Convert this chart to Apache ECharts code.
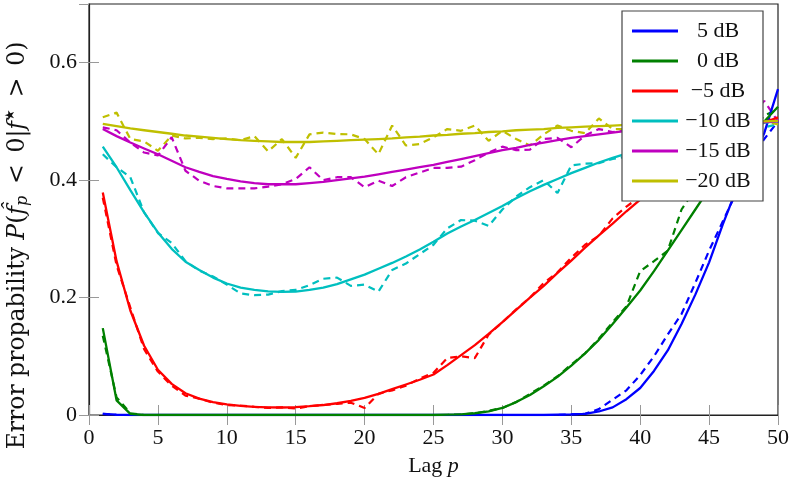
<!DOCTYPE html>
<html>
<head>
<meta charset="utf-8">
<script src="https://cdn.jsdelivr.net/npm/echarts@6/dist/echarts.min.js"></script>
<style>html,body{margin:0;padding:0;background:#fff}#c{width:790px;height:482px}</style>
</head>
<body>
<div id="c"></div>
<script>
const lags = Array.from({length: 50}, (_, i) => i + 1);
const xTicks = [0, 5, 10, 15, 20, 25, 30, 35, 40, 45, 50];
const yTicks = [0, 0.2, 0.4, 0.6];
const names = ['5 dB', '0 dB', '\u22125 dB', '\u221210 dB', '\u221215 dB', '\u221220 dB'];
const colors = ['#0000ff', '#008000', '#ff0000', '#00bfbf', '#bf00bf', '#bfbf00'];

// theory (solid)
const theory5 = [0.002,0.0005,0,0,0,0,0,0,0,0, 0,0,0,0,0,0,0,0,0,0, 0,0,0,0,0,0,0,0,0,0, 0,0,0,0.0005,0.001,0.002,0.006,0.013,0.027,0.046, 0.075,0.11,0.155,0.205,0.26,0.325,0.385,0.43,0.48,0.555];
const theory0 = [0.148,0.025,0.002,0,0,0,0,0,0,0, 0,0,0,0,0,0,0,0,0,0, 0,0,0,0,0,0.0005,0.001,0.003,0.006,0.012, 0.022,0.034,0.049,0.065,0.084,0.105,0.128,0.155,0.183,0.212, 0.245,0.28,0.315,0.35,0.385,0.415,0.445,0.475,0.50,0.525];
const theoryM5 = [0.379,0.262,0.178,0.118,0.077,0.053,0.037,0.028,0.022,0.018, 0.0155,0.0138,0.013,0.0128,0.0133,0.015,0.017,0.02,0.024,0.029, 0.036,0.044,0.052,0.06,0.069,0.085,0.102,0.119,0.138,0.158, 0.179,0.2,0.22,0.242,0.263,0.285,0.306,0.326,0.347,0.367, 0.386,0.404,0.421,0.437,0.452,0.465,0.477,0.488,0.498,0.507];
const theoryM10 = [0.457,0.422,0.383,0.345,0.311,0.283,0.261,0.247,0.234,0.224, 0.217,0.213,0.2105,0.2097,0.2103,0.213,0.217,0.223,0.231,0.239, 0.249,0.259,0.27,0.282,0.295,0.309,0.321,0.332,0.344,0.356, 0.369,0.381,0.392,0.402,0.412,0.421,0.43,0.438,0.445,0.452, 0.459,0.466,0.472,0.478,0.483,0.488,0.492,0.495,0.498,0.5];
const theoryM15 = [0.487,0.475,0.464,0.454,0.444,0.433,0.422,0.414,0.407,0.402, 0.398,0.395,0.393,0.393,0.393,0.395,0.397,0.4,0.403,0.406, 0.41,0.414,0.418,0.422,0.426,0.431,0.436,0.441,0.446,0.451, 0.455,0.46,0.464,0.468,0.472,0.475,0.478,0.481,0.484,0.486, 0.488,0.49,0.492,0.494,0.495,0.496,0.497,0.498,0.499,0.5];
const theoryM20 = [0.496,0.492,0.488,0.485,0.482,0.479,0.476,0.474,0.472,0.47, 0.468,0.467,0.466,0.465,0.465,0.465,0.466,0.467,0.468,0.469, 0.47,0.471,0.473,0.474,0.476,0.477,0.479,0.48,0.482,0.483, 0.485,0.486,0.487,0.489,0.49,0.491,0.492,0.493,0.494,0.495, 0.496,0.497,0.497,0.498,0.498,0.499,0.499,0.5,0.5,0.501];

// empirical (dashed)
const sim5 = [0.002,0,0,0,0,0,0,0,0,0, 0,0,0,0,0,0,0,0,0,0, 0,0,0,0,0,0,0,0,0,0, 0,0,0,0,0.001,0.002,0.01,0.026,0.042,0.068, 0.10,0.137,0.172,0.225,0.28,0.33,0.38,0.43,0.47,0.50];
const sim0 = [0.135,0.03,0.003,0,0,0,0,0,0,0, 0,0,0,0,0,0,0,0,0,0, 0,0,0,0,0,0,0.001,0.003,0.007,0.012, 0.022,0.036,0.05,0.066,0.086,0.105,0.13,0.158,0.185,0.245, 0.262,0.28,0.35,0.385,0.40,0.43,0.45,0.48,0.51,0.52];
const simM5 = [0.37,0.255,0.183,0.112,0.074,0.05,0.033,0.028,0.021,0.017, 0.016,0.014,0.012,0.013,0.011,0.015,0.017,0.019,0.021,0.012, 0.036,0.042,0.05,0.062,0.072,0.097,0.10,0.097,0.137,0.158, 0.18,0.2,0.225,0.243,0.268,0.29,0.305,0.335,0.355,0.372, 0.39,0.41,0.42,0.44,0.455,0.46,0.48,0.49,0.505,0.50];
const simM10 = [0.444,0.422,0.405,0.345,0.31,0.293,0.262,0.246,0.236,0.222, 0.207,0.204,0.205,0.211,0.213,0.221,0.232,0.234,0.22,0.222, 0.21,0.247,0.258,0.274,0.29,0.318,0.332,0.331,0.322,0.35, 0.372,0.388,0.40,0.378,0.425,0.428,0.429,0.436,0.44,0.455, 0.46,0.47,0.465,0.48,0.488,0.485,0.495,0.49,0.49,0.495];
const simM15 = [0.49,0.485,0.464,0.447,0.442,0.473,0.416,0.399,0.39,0.386, 0.386,0.386,0.389,0.393,0.402,0.422,0.40,0.405,0.405,0.388, 0.399,0.39,0.405,0.413,0.421,0.421,0.423,0.434,0.447,0.457, 0.451,0.452,0.47,0.472,0.456,0.476,0.487,0.482,0.485,0.49, 0.48,0.495,0.49,0.50,0.495,0.505,0.495,0.51,0.535,0.50];
const simM20 = [0.507,0.515,0.47,0.466,0.45,0.476,0.471,0.472,0.47,0.471, 0.468,0.475,0.449,0.47,0.438,0.478,0.481,0.4785,0.478,0.47, 0.444,0.493,0.459,0.4615,0.473,0.487,0.484,0.493,0.467,0.484, 0.47,0.459,0.478,0.493,0.484,0.48,0.505,0.487,0.487,0.49, 0.50,0.485,0.495,0.505,0.49,0.50,0.495,0.505,0.50,0.495];

const theory = [theory5, theory0, theoryM5, theoryM10, theoryM15, theoryM20];
const sim = [sim5, sim0, simM5, simM10, simM15, simM20];

const FONT = 'Liberation Serif';
const YFONT = 'DejaVu Serif';
const series = [];
for (let k = 0; k < 6; k++) {
  series.push({
    name: names[k] + ' sim', type: 'line', xAxisIndex: 0, yAxisIndex: 0,
    data: lags.map((p, i) => [p, sim[k][i]]),
    showSymbol: false, symbol: 'none', z: 2,
    color: colors[k],
    lineStyle: { color: colors[k], width: 2.2, type: [7, 5] }
  });
  series.push({
    name: names[k], type: 'line', xAxisIndex: 0, yAxisIndex: 0,
    data: lags.map((p, i) => [p, theory[k][i]]),
    showSymbol: false, symbol: 'none', z: 3,
    color: colors[k],
    itemStyle: { color: colors[k] },
    lineStyle: { color: colors[k], width: 2.3 }
  });
}

const tickStyle = { show: true, inside: true, length: 10, lineStyle: { color: '#999', width: 1 } };
const LS = 23.5;
const chart = echarts.init(document.getElementById('c'), null, { renderer: 'canvas' });
chart.setOption({
  animation: false,
  backgroundColor: '#fff',
  grid: { left: 89, right: 12, top: 4, bottom: 67, outerBoundsMode: 'none', containLabel: false,
    show: true, borderColor: '#222', borderWidth: 1.2, backgroundColor: 'transparent' },
  legend: {
    data: names,
    orient: 'vertical',
    left: 622, top: 11,
    padding: [9, 10, 9, 10],
    itemWidth: 46, itemHeight: 3, itemGap: 8, itemTextGap: 5,
    icon: 'rect',
    backgroundColor: '#fff',
    borderColor: '#444', borderWidth: 1.2,
    formatter: n => '{c|' + n + '}',
    textStyle: { fontFamily: FONT, fontSize: 22, color: '#111',
      rich: { c: { width: 70, align: 'center', fontFamily: FONT, fontSize: 22, lineHeight: 22, color: '#111' } } }
  },
  xAxis: [{
    type: 'value', min: 0, max: 50, interval: 5, position: 'bottom',
    axisLine: { show: true, lineStyle: { color: '#222', width: 1.2 } },
    axisTick: tickStyle, splitLine: { show: false },
    axisLabel: { fontFamily: FONT, fontSize: 22, color: '#111', margin: 12 },
    name: '{r|Lag }{i|p}', nameLocation: 'middle', nameGap: 40,
    nameTextStyle: { fontFamily: FONT, fontSize: 22, color: '#111',
      rich: { r: { fontFamily: FONT, fontSize: 22, color: '#111' }, i: { fontFamily: FONT, fontSize: 22, fontStyle: 'italic', color: '#111' } } }
  }, {
    type: 'value', min: 0, max: 50, interval: 5, position: 'top',
    axisLine: { show: false }, axisTick: tickStyle, axisLabel: { show: false }, splitLine: { show: false }
  }],
  yAxis: [{
    type: 'value', min: 0, max: 0.7, interval: 0.2, position: 'left',
    axisLine: { show: true, lineStyle: { color: '#222', width: 1.2 } },
    axisTick: tickStyle, splitLine: { show: false },
    axisLabel: { fontFamily: FONT, fontSize: 22, color: '#111', margin: 12, showMaxLabel: false,
      formatter: v => (yTicks.some(t => Math.abs(t - v) < 1e-9) ? String(+v.toFixed(1)) : '') },
    name: '{r|Error propability }{i|P}{r|(}{i|f\u0302}{s|p}{r|\u2002<\u20020|}{i|f}{u|\u2605}{r|\u2002>\u20020)}',
    nameLocation: 'middle', nameGap: 58, nameRotate: 90,
    nameTextStyle: { fontFamily: YFONT, fontSize: LS, color: '#111', padding: [0, 72, 0, 0],
      rich: {
        r: { fontFamily: YFONT, fontSize: LS, color: '#111', lineHeight: 27 },
        i: { fontFamily: YFONT, fontSize: LS, fontStyle: 'italic', color: '#111', lineHeight: 27 },
        s: { fontFamily: YFONT, fontSize: 16, fontStyle: 'italic', color: '#111', lineHeight: 16, verticalAlign: 'bottom' },
        u: { fontFamily: YFONT, fontSize: 13, color: '#111', lineHeight: 14, verticalAlign: 'top' }
      } }
  }, {
    type: 'value', min: 0, max: 0.7, interval: 0.2, position: 'right',
    axisLine: { show: false }, axisTick: tickStyle, axisLabel: { show: false }, splitLine: { show: false }
  }],
  series: series
});
</script>
</body>
</html>
